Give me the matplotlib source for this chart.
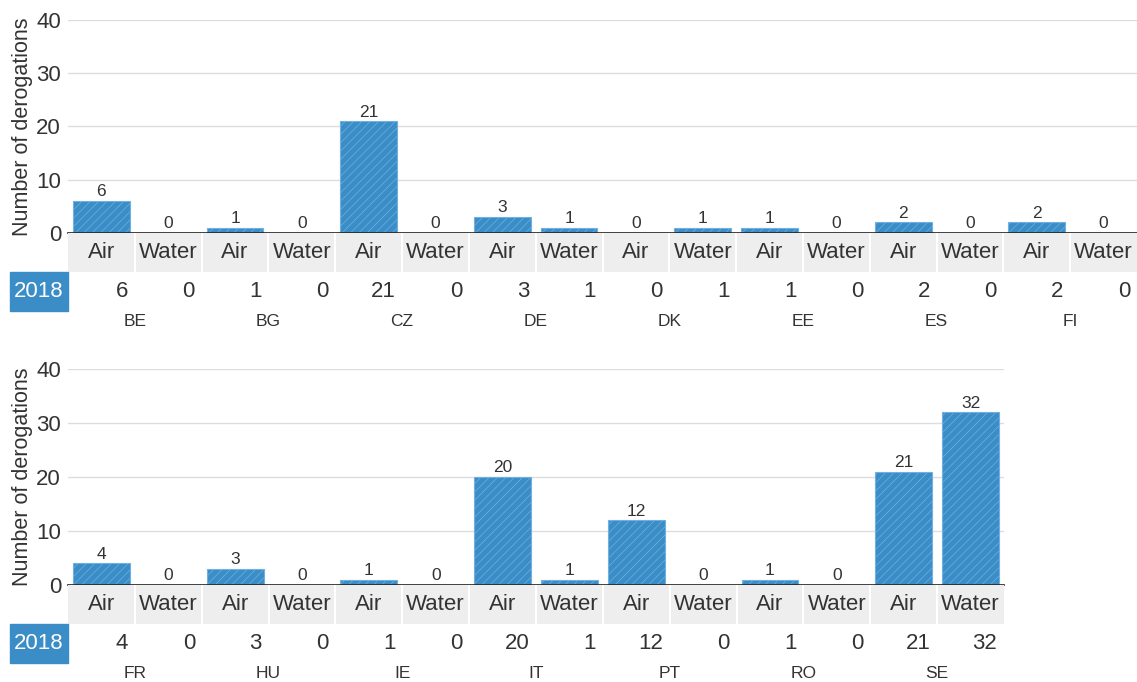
import matplotlib.pyplot as plt
import numpy as np

############# data ################
year = '2018'
media = ['Air', 'Water']

countries_top = ['BE', 'BG', 'CZ', 'DE', 'DK', 'EE', 'ES', 'FI']
air_top = [6, 1, 21, 3, 0, 1, 2, 2]
water_top = [0, 0, 0, 1, 1, 0, 0, 0]

countries_bot = ['FR', 'HU', 'IE', 'IT', 'PT', 'RO', 'SE']
air_bot = [4, 3, 1, 20, 12, 1, 21]
water_bot = [0, 0, 0, 1, 0, 0, 32]

############# style ################
W, H = 1137, 682
blue = '#3b8dc8'
txt = '#333333'
plt.rcParams['font.family'] = ['Liberation Sans', 'DejaVu Sans']
plt.rcParams['hatch.linewidth'] = 0.5

fig = plt.figure(figsize=(W / 100, H / 100), dpi=100)


def px_axes(x0, y0, x1, y1):
    # pixel box (top-left origin) -> figure axes
    return fig.add_axes([x0 / W, 1 - y1 / H, (x1 - x0) / W, (y1 - y0) / H])


def panel(countries, air, water, left, right, top, base):
    vals = []
    for a, w in zip(air, water):
        vals += [a, w]
    n = len(vals)
    x = np.arange(n)

    # main bars
    ax = px_axes(left, top, right, base)
    ax.bar(x, vals, width=0.85, color=blue, edgecolor='#6fb0de',
           linewidth=0.8, hatch='////', zorder=3)
    for xi, v in zip(x, vals):
        ax.text(xi, v + 0.3, str(v), ha='center', va='bottom',
                fontsize=12.5, color=txt)
    ax.set_xlim(-0.5, n - 0.5)
    ax.set_ylim(0, 40)
    ax.set_yticks([0, 10, 20, 30, 40])
    ax.tick_params(axis='y', length=0, labelsize=16, labelcolor=txt, pad=5)
    ax.set_xticks([])
    ax.grid(axis='y', color='#dddddd', linewidth=1, zorder=0)
    for s in ['top', 'right', 'left']:
        ax.spines[s].set_visible(False)
    ax.spines['bottom'].set_color('#222222')
    ax.spines['bottom'].set_linewidth(1.2)
    ax.spines['bottom'].set_zorder(4)
    ax.set_ylabel('Number of derogations', fontsize=15.5, color=txt, labelpad=2)

    # category band (Air / Water)
    axb = px_axes(left, base, right, base + 39)
    axb.set_facecolor('#efeeee')
    axb.set_xlim(-0.5, n - 0.5)
    axb.set_ylim(0, 1)
    for xi in x[:-1]:
        axb.axvline(xi + 0.5, color='white', linewidth=1.5)
    for xi in x:
        axb.text(xi, 0.5, media[xi % 2], ha='center', va='center',
                 fontsize=16, color=txt)
    axb.set_xticks([])
    axb.set_yticks([])
    for s in axb.spines.values():
        s.set_visible(False)

    # table row with year values and country labels
    axt = px_axes(left, base + 39, right, base + 78)
    axt.set_xlim(-0.5, n - 0.5)
    axt.set_ylim(0, 1)
    axt.axis('off')
    for xi, v in zip(x, vals):
        axt.text(xi + 0.4, 0.5, str(v), ha='right', va='center',
                 fontsize=16, color=txt)
    for k, c in enumerate(countries):
        axt.text(2 * k + 0.5, -0.28, c, ha='center', va='center',
                 fontsize=12.5, color=txt)
    bx = -(left - 10) / (right - left)
    axt.add_patch(plt.Rectangle((bx, 0), -bx, 1, transform=axt.transAxes,
                                color=blue, clip_on=False))
    axt.text(bx / 2, 0.5, year, transform=axt.transAxes, ha='center',
             va='center', fontsize=16, color='white')


panel(countries_top, air_top, water_top, 68, 1137, 20, 233)
panel(countries_bot, air_bot, water_bot, 68, 1004, 369, 585)

fig.savefig('out.png', dpi=100)
